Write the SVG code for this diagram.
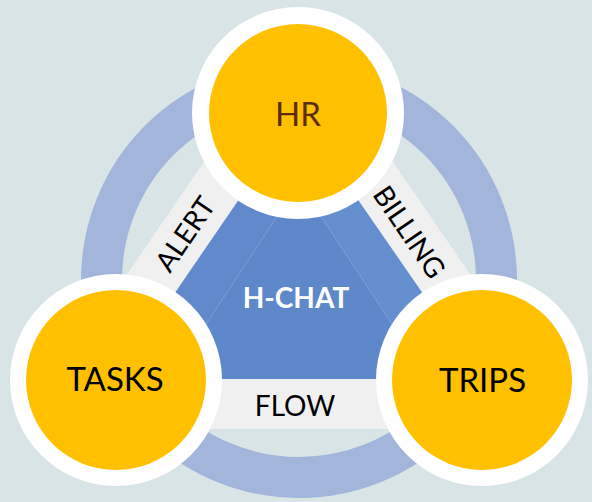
<svg xmlns="http://www.w3.org/2000/svg" width="592" height="502" viewBox="0 0 592 502">
  <style>
    .bg { fill: #d9e4e6; }
    .ring { fill: none; stroke: #a3b5da; stroke-width: 41; }
    .band { fill: #f0f0f0; }
    .halo { fill: #ffffff; }
    .core { fill: #ffc000; }
    .lbl { font-family: Lato, "Open Sans", "Liberation Sans", sans-serif; text-anchor: middle; }
    .node-t { font-size: 33px; fill: #000000; }
    .edge-t { font-size: 28px; fill: #000000; }
  </style>
  <rect class="bg" x="0" y="0" width="592" height="502"/>
  <circle class="ring" cx="299" cy="280" r="197.5"/>

  <g id="connectors">
    <polygon class="band" points="298,24 33,412 42,429 556,429 565,412"/>
    <text class="lbl edge-t" transform="translate(185,234) rotate(-55.7)" y="10">ALERT</text>
    <text class="lbl edge-t" transform="translate(409.5,232) rotate(55.7)" y="10">BILLING</text>
    <text class="lbl edge-t" x="295" y="416">FLOW</text>
  </g>

  <g id="node-hchat">
    <polygon fill="#6189cc" points="298,113 116,379 170,379 299,183"/>
    <polygon fill="#658ecf" points="298,113 482,379 428,379 299,183"/>
    <polygon fill="#5f88ca" points="299,183 170,379 428,379"/>
    <text class="lbl" x="296" y="308" font-size="28" font-weight="bold" fill="#ffffff">H-CHAT</text>
  </g>

  <g id="node-hr">
    <circle class="halo" cx="298" cy="113" r="106"/>
    <circle class="core" cx="298" cy="113" r="89"/>
    <text class="lbl node-t" x="298" y="126" style="fill:#5c2d0d">HR</text>
  </g>

  <g id="node-tasks">
    <circle class="halo" cx="116" cy="380" r="106"/>
    <circle class="core" cx="116" cy="380" r="90"/>
    <text class="lbl node-t" x="115" y="391">TASKS</text>
  </g>

  <g id="node-trips">
    <circle class="halo" cx="482" cy="380" r="106"/>
    <circle class="core" cx="482" cy="380" r="90"/>
    <text class="lbl node-t" x="482.5" y="392">TRIPS</text>
  </g>
</svg>
